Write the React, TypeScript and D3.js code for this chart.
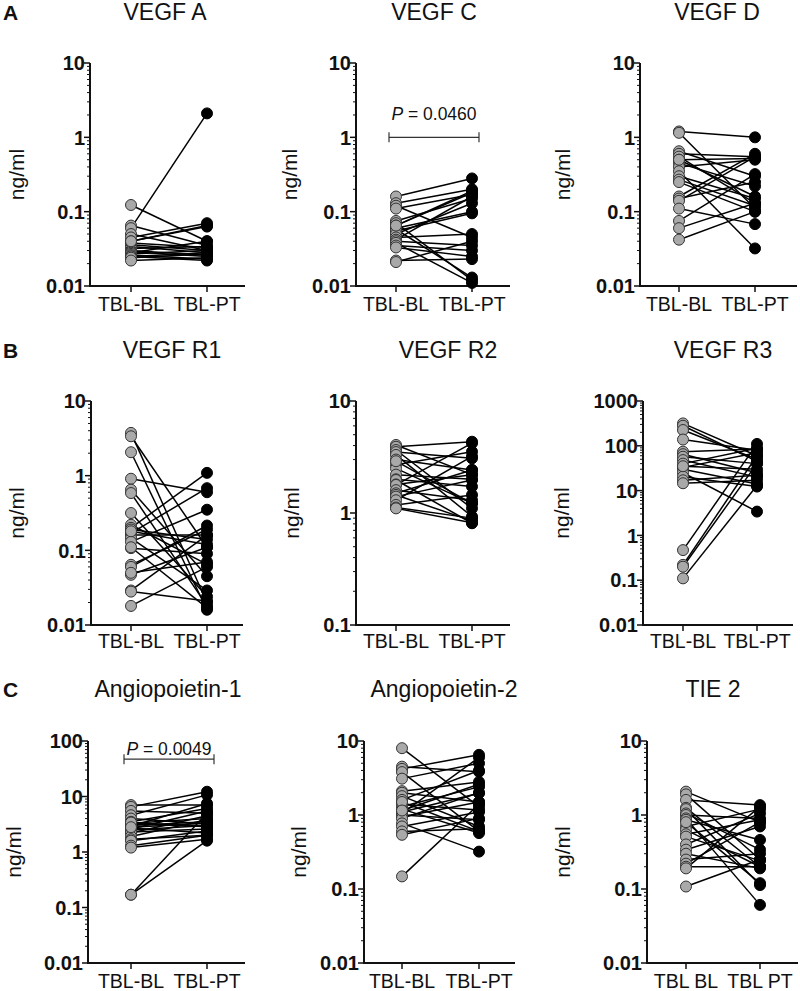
import React from 'react'
import * as d3 from 'd3'

// paired values, index i in BL matches index i in PT
const vegfA_BL = [0.123, 0.065, 0.06, 0.05, 0.045, 0.04, 0.038, 0.036, 0.034, 0.032, 0.03, 0.029, 0.028, 0.027, 0.026, 0.025, 0.025, 0.024, 0.022, 0.04]
const vegfA_PT = [0.04, 0.035, 2.1, 0.03, 0.07, 0.065, 0.033, 0.03, 0.028, 0.034, 0.026, 0.025, 0.04, 0.03, 0.023, 0.028, 0.022, 0.027, 0.024, 0.063]

const vegfC_BL = [0.16, 0.13, 0.12, 0.11, 0.075, 0.07, 0.065, 0.06, 0.058, 0.055, 0.05, 0.045, 0.042, 0.04, 0.038, 0.035, 0.033, 0.022, 0.021, 0.065]
const vegfC_PT = [0.28, 0.2, 0.045, 0.17, 0.15, 0.012, 0.18, 0.1, 0.013, 0.095, 0.13, 0.05, 0.16, 0.035, 0.011, 0.03, 0.025, 0.023, 0.04, 0.19]

const vegfD_BL = [1.2, 1.15, 0.65, 0.6, 0.55, 0.5, 0.45, 0.4, 0.35, 0.3, 0.27, 0.25, 0.16, 0.15, 0.14, 0.11, 0.075, 0.06, 0.042, 0.5]
const vegfD_PT = [1.0, 0.11, 0.3, 0.55, 0.13, 0.16, 0.22, 0.5, 0.032, 0.15, 0.12, 0.1, 0.6, 0.25, 0.55, 0.068, 0.32, 0.13, 0.1, 0.52]

const vegfR1_BL = [3.74, 3.37, 2.06, 0.91, 0.65, 0.585, 0.316, 0.22, 0.2, 0.19, 0.17, 0.16, 0.146, 0.13, 0.107, 0.064, 0.06, 0.047, 0.05, 0.029, 0.028, 0.018, 0.18, 0.11]
const vegfR1_PT = [0.02, 0.11, 0.016, 0.6, 0.045, 0.018, 0.024, 0.065, 1.09, 0.14, 0.68, 0.16, 0.029, 0.35, 0.09, 0.19, 0.215, 0.11, 0.07, 0.16, 0.021, 0.06, 0.12, 0.017]

const vegfR2_BL = [4.05, 3.9, 3.65, 3.5, 3.3, 3.0, 2.7, 2.5, 2.2, 2.0, 1.97, 1.8, 1.78, 1.6, 1.5, 1.45, 1.4, 1.3, 1.18, 1.12, 1.1, 2.9]
const vegfR2_PT = [2.2, 4.33, 1.1, 3.08, 0.93, 2.42, 3.53, 1.22, 2.0, 1.72, 0.81, 2.2, 4.2, 1.3, 2.42, 0.85, 1.97, 3.2, 1.45, 0.9, 0.82, 1.22]

const vegfR3_BL = [316, 280, 225, 138, 74, 65, 57, 48, 40, 33, 30, 25, 20.5, 17, 14.6, 0.47, 0.22, 0.2, 0.11, 35]
const vegfR3_PT = [60, 45, 50, 80, 85, 25, 40, 20, 88, 70, 14, 3.4, 12.3, 22, 17, 110, 60, 40, 13, 30]

const ang1_BL = [7.0, 6.5, 5.5, 4.6, 4.0, 3.5, 3.3, 3.2, 3.0, 2.9, 2.7, 2.6, 2.5, 2.3, 2.2, 1.9, 1.7, 1.6, 1.3, 1.2, 0.17, 0.17, 3.4, 2.8]
const ang1_PT = [7.0, 12.2, 5.0, 10.7, 3.2, 6.1, 4.0, 2.9, 3.5, 7.5, 2.2, 5.5, 3.0, 2.6, 4.5, 3.8, 2.0, 2.4, 2.0, 1.7, 5.0, 1.6, 2.86, 3.3]

const ang2_BL = [8.0, 4.5, 4.2, 3.8, 3.1, 2.1, 2.0, 1.8, 1.6, 1.4, 1.3, 1.2, 1.1, 1.05, 1.0, 0.95, 0.9, 0.77, 0.7, 0.6, 0.54, 0.148, 1.5, 1.15]
const ang2_PT = [1.3, 3.85, 6.5, 0.6, 5.0, 2.8, 1.5, 0.7, 4.0, 1.17, 2.4, 0.57, 1.97, 6.0, 0.86, 1.5, 2.0, 0.32, 1.1, 0.65, 0.9, 1.4, 0.6, 2.6]

const tie2_BL = [2.07, 1.9, 1.6, 1.25, 1.2, 1.05, 1.0, 0.9, 0.86, 0.7, 0.63, 0.55, 0.51, 0.4, 0.34, 0.3, 0.25, 0.22, 0.2, 0.19, 0.108, 0.8]
const tie2_PT = [0.8, 0.25, 1.36, 0.2, 0.113, 0.34, 0.9, 0.061, 0.46, 1.2, 0.2, 0.86, 0.24, 1.05, 0.7, 0.19, 0.3, 0.8, 0.2, 1.3, 0.25, 0.12]

const titles = ['VEGF A', 'VEGF C', 'VEGF D', 'VEGF R1', 'VEGF R2', 'VEGF R3', 'Angiopoietin-1', 'Angiopoietin-2', 'TIE 2']
const yDomains = [[0.01, 10], [0.01, 10], [0.01, 10], [0.01, 10], [0.1, 10], [0.01, 1000], [0.01, 100], [0.01, 10], [0.01, 10]]
const categories = ['TBL-BL', 'TBL-PT']
const categoriesTie2 = ['TBL BL', 'TBL PT']
const rowLetters = ['A', 'B', 'C']

// significance brackets: panel index, p-value text, bracket level (ng/ml)
const pAnnotations = [
  { panel: 1, p: '0.0460', level: 1.0 },
  { panel: 6, p: '0.0049', level: 47 },
]

const seriesBL = [vegfA_BL, vegfC_BL, vegfD_BL, vegfR1_BL, vegfR2_BL, vegfR3_BL, ang1_BL, ang2_BL, tie2_BL]
const seriesPT = [vegfA_PT, vegfC_PT, vegfD_PT, vegfR1_PT, vegfR2_PT, vegfR3_PT, ang1_PT, ang2_PT, tie2_PT]

// layout (pixels)
const rows = [
  { top: 63, bottom: 286, titleY: 20, labelY: 311 },
  { top: 401, bottom: 625, titleY: 358, labelY: 648 },
  { top: 741, bottom: 963, titleY: 697, labelY: 988 },
]
const cols = [
  { axisX: 90, x1: 131, x2: 207, endX: 245, titleX: 165, yLabelX: 17 },
  { axisX: 356, x1: 396, x2: 472, endX: 510, titleX: 434, yLabelX: 290 },
  { axisX: 640, x1: 679, x2: 755, endX: 797, titleX: 717, yLabelX: 563 },
  { axisX: 91, x1: 131, x2: 207, endX: 243, titleX: 172, yLabelX: 17 },
  { axisX: 356, x1: 396, x2: 472, endX: 510, titleX: 448, yLabelX: 292 },
  { axisX: 643, x1: 683, x2: 757, endX: 793, titleX: 723, yLabelX: 562 },
  { axisX: 88, x1: 131, x2: 207, endX: 245, titleX: 168, yLabelX: 14 },
  { axisX: 364, x1: 402, x2: 479, endX: 515, titleX: 444, yLabelX: 299 },
  { axisX: 647, x1: 686, x2: 760, endX: 798, titleX: 713, yLabelX: 563 },
]

const FONT = '"Liberation Sans", Arial, Helvetica, sans-serif'

function Panel({ idx }: { idx: number }) {
  const row = rows[Math.floor(idx / 3)]
  const c = cols[idx]
  const [lo, hi] = yDomains[idx]
  const y = d3.scaleLog().domain([lo, hi]).range([row.bottom, row.top])
  const x = d3.scalePoint().domain(['BL', 'PT']).range([c.x1, c.x2])
  const bl = seriesBL[idx]
  const pt = seriesPT[idx]
  const cats = idx === 8 ? categoriesTie2 : categories

  const e0 = Math.round(Math.log10(lo))
  const e1 = Math.round(Math.log10(hi))
  const majors = d3.range(e0, e1 + 1).map((e) => Math.pow(10, e))
  const minors: number[] = []
  d3.range(e0, e1).forEach((e) => {
    for (let k = 2; k <= 9; k++) minors.push(k * Math.pow(10, e))
  })
  const fmt = (v: number) => (v >= 1 ? d3.format('d')(v) : String(+v.toPrecision(1)))

  const ann = pAnnotations.find((a) => a.panel === idx)
  const r = 5.5

  return (
    <g>
      <text x={c.titleX} y={row.titleY} fontSize={23} textAnchor="middle" fontFamily={FONT} fill="#111">
        {titles[idx]}
      </text>
      <text
        transform={`translate(${c.yLabelX + 7},${(row.top + row.bottom) / 2}) rotate(-90)`}
        fontSize={21}
        textAnchor="middle"
        fontFamily={FONT}
        fill="#111"
      >
        ng/ml
      </text>
      {/* y axis */}
      <line x1={c.axisX} x2={c.axisX} y1={row.top} y2={row.bottom + 1} stroke="#111" strokeWidth={2} />
      {minors.map((v, i) => (
        <line key={'m' + i} x1={c.axisX - 3} x2={c.axisX} y1={y(v)} y2={y(v)} stroke="#111" strokeWidth={1} />
      ))}
      {majors.map((v, i) => (
        <g key={'M' + i}>
          <line x1={c.axisX - 6} x2={c.axisX} y1={y(v)} y2={y(v)} stroke="#111" strokeWidth={1.5} />
          <text
            x={c.axisX - 5}
            y={y(v)}
            dy="0.36em"
            fontSize={20}
            fontWeight="bold"
            textAnchor="end"
            fontFamily={FONT}
            fill="#111"
          >
            {fmt(v)}
          </text>
        </g>
      ))}
      {/* x axis */}
      <line x1={c.axisX - 1} x2={c.endX} y1={row.bottom} y2={row.bottom} stroke="#111" strokeWidth={2} />
      {(['BL', 'PT'] as const).map((k, i) => (
        <g key={k}>
          <line x1={x(k)} x2={x(k)} y1={row.bottom} y2={row.bottom + 6} stroke="#111" strokeWidth={1.5} />
          <text x={x(k)} y={row.labelY} fontSize={19.5} textAnchor="middle" fontFamily={FONT} fill="#111">
            {cats[i]}
          </text>
        </g>
      ))}
      {/* pair lines */}
      {bl.map((v, i) => (
        <line key={'l' + i} x1={x('BL')} y1={y(v)} x2={x('PT')} y2={y(pt[i])} stroke="#000" strokeWidth={1.5} />
      ))}
      {bl.map((v, i) => (
        <circle key={'b' + i} cx={x('BL')} cy={y(v)} r={r} fill="#a9a9a9" stroke="#333" strokeWidth={1} />
      ))}
      {pt.map((v, i) => (
        <circle key={'p' + i} cx={x('PT')} cy={y(v)} r={r} fill="#000" stroke="#000" strokeWidth={1} />
      ))}
      {ann && (
        <g>
          <line
            x1={c.x1 - 7}
            x2={c.x2 + 7}
            y1={y(ann.level)}
            y2={y(ann.level)}
            stroke="#333"
            strokeWidth={1.2}
          />
          <line x1={c.x1 - 7} x2={c.x1 - 7} y1={y(ann.level) - 5} y2={y(ann.level) + 5} stroke="#333" strokeWidth={1.2} />
          <line x1={c.x2 + 7} x2={c.x2 + 7} y1={y(ann.level) - 5} y2={y(ann.level) + 5} stroke="#333" strokeWidth={1.2} />
          <text
            x={(c.x1 + c.x2) / 2}
            y={y(ann.level) - (idx === 1 ? 17 : 4)}
            fontSize={17.5}
            textAnchor="middle"
            fontFamily={FONT}
            fill="#111"
          >
            <tspan fontStyle="italic">P</tspan> = {ann.p}
          </text>
        </g>
      )}
    </g>
  )
}

export default function App() {
  return (
    <svg
      width={800}
      height={991}
      viewBox="0 0 800 991"
      style={{ position: 'absolute', left: 0, top: 0, background: '#fff' }}
    >
      <rect width={800} height={991} fill="#fff" />
      {rowLetters.map((l, i) => (
        <text key={l} x={3} y={rows[i].titleY} fontSize={21} fontWeight="bold" fontFamily={FONT} fill="#111">
          {l}
        </text>
      ))}
      {titles.map((_, i) => (
        <Panel key={i} idx={i} />
      ))}
    </svg>
  )
}
